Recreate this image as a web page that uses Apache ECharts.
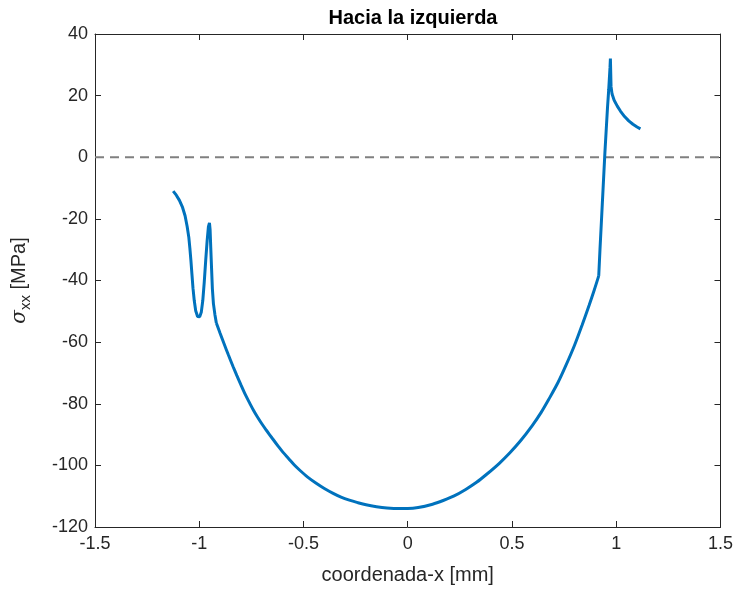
<!DOCTYPE html>
<html>
<head>
<meta charset="utf-8">
<script src="https://cdn.jsdelivr.net/npm/echarts@6/dist/echarts.min.js"></script>
<style>html,body{margin:0;padding:0;background:#fff;}#c{width:736px;height:592px;}</style>
</head>
<body>
<div id="c"></div>
<script>
const titleText = 'Hacia la izquierda';
const xName = 'coordenada-x [mm]';
const xTicks = [-1.5, -1, -0.5, 0, 0.5, 1, 1.5];
const yTicks = [-120, -100, -80, -60, -40, -20, 0, 20, 40];

// left hook: x (mm), sigma_xx (MPa)
const hookX = [-1.125, -1.11, -1.095, -1.08, -1.068, -1.058, -1.05, -1.045, -1.04, -1.035, -1.03, -1.024, -1.017, -1.008, -0.998, -0.99, -0.983, -0.976, -0.969, -0.962, -0.956, -0.951, -0.948, -0.945, -0.941, -0.937, -0.932, -0.925, -0.918];
const hookY = [-11, -12.3, -14, -16.3, -19, -22.5, -26, -29.5, -33.5, -38, -42.5, -46.5, -49.8, -51.7, -51.8, -50.2, -46.5, -40.5, -33.5, -27, -22.5, -21.3, -23.5, -29, -36, -42.7, -47.5, -51, -53.8];
// main bowl
const bowlX = [-0.918, -0.90, -0.88, -0.86, -0.838, -0.82, -0.80, -0.78, -0.758, -0.74, -0.72, -0.70, -0.678, -0.65, -0.62, -0.599, -0.57, -0.545, -0.519, -0.48, -0.439, -0.40, -0.36, -0.32, -0.28, -0.24, -0.20, -0.15, -0.10, -0.041, 0.0, 0.05, 0.119, 0.17, 0.22, 0.278, 0.33, 0.38, 0.438, 0.49, 0.54, 0.598, 0.64, 0.677, 0.72, 0.757, 0.80, 0.836, 0.87, 0.895, 0.916];
const bowlY = [-53.8, -57.1, -60.7, -64.2, -67.9, -70.8, -73.9, -76.9, -79.8, -82.1, -84.4, -86.5, -88.6, -91.2, -93.9, -95.7, -97.9, -99.8, -101.5, -103.8, -105.8, -107.5, -109, -110.3, -111.3, -112.1, -112.8, -113.4, -113.8, -114, -114, -113.7, -112.6, -111.4, -110, -107.8, -105.5, -102.8, -99.4, -95.9, -92.1, -87, -82.8, -78.5, -73.2, -67.8, -61, -54.5, -48, -43, -38.5];
// right spike and tail
const spikeX = [0.916, 0.922, 0.928, 0.934, 0.940, 0.946, 0.952, 0.958, 0.964, 0.970, 0.972, 0.975, 0.980, 0.990, 1.005, 1.02, 1.04, 1.06, 1.08, 1.10, 1.116];
const spikeY = [-38.5, -30, -22, -14, -6, 2, 9, 16, 22, 29, 32, 23, 20.5, 18.5, 16.6, 15, 13.2, 11.8, 10.7, 9.8, 9.2];
const zeroLineX = [-1.5, 1.5];
const zeroLineY = [0, 0];

const pair = (a, b) => a.map((x, i) => [x, b[i]]);

const chart = echarts.init(document.getElementById('c'), null, {renderer: 'canvas'});
const txt = '#262626';
const font = 'Liberation Sans, Arial, Helvetica, sans-serif';
const axisCommon = {
  type: 'value',
  axisLine: {show: true, onZero: false, lineStyle: {color: txt, width: 1}},
  axisTick: {show: true, inside: true, length: 6, lineStyle: {color: txt}},
  splitLine: {show: false}
};
const curveStyle = {color: '#0072BD', width: 3};
chart.setOption({
  animation: false,
  backgroundColor: '#fff',
  title: {
    text: titleText, left: 408, top: 3, textAlign: 'center',
    textStyle: {fontFamily: font, fontSize: 20, fontWeight: 'bold', color: '#000'}
  },
  grid: {left: 95, right: 14, top: 34, bottom: 65},
  xAxis: [
    Object.assign({}, axisCommon, {
      min: -1.5, max: 1.5, interval: 0.5, position: 'bottom',
      name: xName, nameLocation: 'middle', nameGap: 38,
      nameTextStyle: {fontFamily: font, fontSize: 20, color: txt},
      axisLabel: {fontFamily: font, fontSize: 18, color: txt, margin: 8,
        formatter: v => xTicks.includes(v) ? String(v) : ''}
    }),
    Object.assign({}, axisCommon, {
      min: -1.5, max: 1.5, interval: 0.5, position: 'top', axisLabel: {show: false}
    })
  ],
  yAxis: [
    Object.assign({}, axisCommon, {
      min: -120, max: 40, interval: 20, position: 'left',
      name: '{g|σ}{s|xx}{n| [MPa]}', nameLocation: 'middle', nameGap: 62,
      nameTextStyle: {
        fontFamily: font, fontSize: 20, color: txt,
        rich: {
          g: {fontFamily: 'DejaVu Serif, serif', fontStyle: 'italic', fontSize: 20, color: txt},
          s: {fontFamily: font, fontSize: 15, color: txt, padding: [12, 0, 0, 0]},
          n: {fontFamily: font, fontSize: 20, color: txt}
        }
      },
      axisLabel: {fontFamily: font, fontSize: 18, color: txt, margin: 7,
        formatter: v => yTicks.includes(v) ? String(v) : ''}
    }),
    Object.assign({}, axisCommon, {
      min: -120, max: 40, interval: 20, position: 'right', axisLabel: {show: false}
    })
  ],
  series: [
    {type: 'line', data: pair(zeroLineX, zeroLineY), symbol: 'none', silent: true,
      lineStyle: {color: '#808080', width: 2, type: [9, 6]}},
    {type: 'line', data: pair(hookX, hookY), symbol: 'none', smooth: false, lineStyle: curveStyle},
    {type: 'line', data: pair(bowlX, bowlY), symbol: 'none', smooth: 0.3, lineStyle: curveStyle},
    {type: 'line', data: pair(spikeX, spikeY), symbol: 'none', smooth: false, lineStyle: curveStyle}
  ]
});
</script>
</body>
</html>
